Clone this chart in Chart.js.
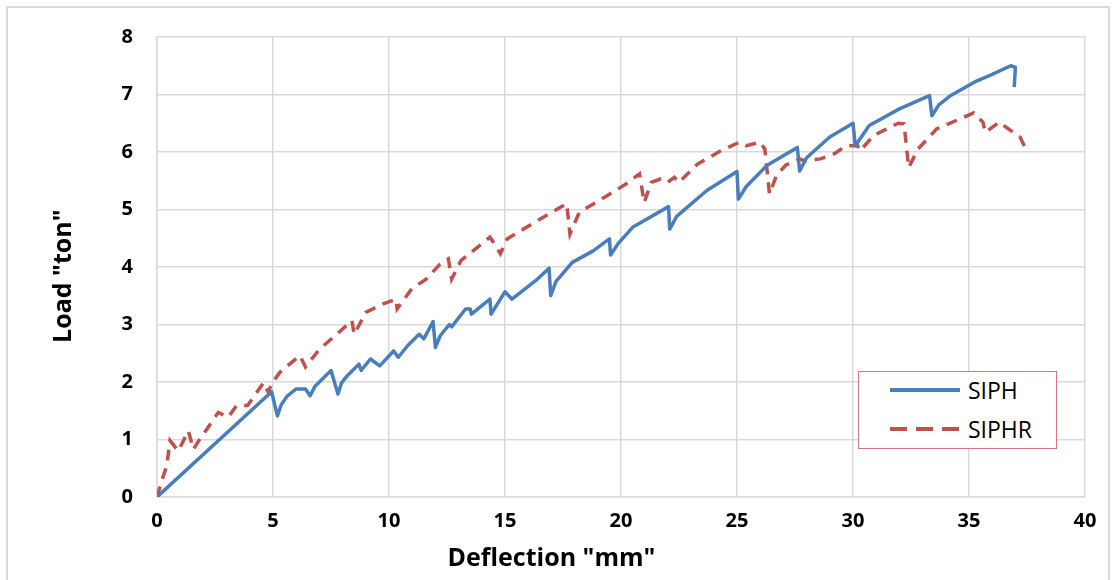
<!DOCTYPE html>
<html>
<head>
<meta charset="utf-8">
<script src="https://cdn.jsdelivr.net/npm/chart.js@4.4.1/dist/chart.umd.min.js"></script>
<style>
  html, body { margin: 0; padding: 0; background: #ffffff; }
  #wrap { position: relative; width: 1120px; height: 580px; overflow: hidden; }
  #frame { position: absolute; left: 6px; top: 6px; width: 1104px; height: 600px; border: 2px solid #d9d9d9; box-sizing: border-box; }
  canvas { position: absolute; left: 0; top: 0; }
  #legend { position: absolute; left: 858px; top: 371px; width: 199px; height: 78px; border: 1px solid #d0787a;
    box-sizing: border-box; background: #fff; font-family: "Open Sans", "Noto Sans", sans-serif; font-size: 23px; color: #000; }
  .item { position: absolute; left: 31px; height: 30px; display: flex; align-items: center; }
  .item svg { margin-right: 8px; }
</style>
</head>
<body>
<div id="wrap">
  <div id="frame"></div>
  <canvas id="chart" width="1120" height="580"></canvas>
  <div id="legend"></div>
</div>
<script>
// SIPH (solid blue)
const siphX = [0, 4.94, 5.19, 5.35, 5.6, 6.0, 6.4, 6.6, 6.8, 7.0, 7.5, 7.8, 7.95, 8.2, 8.7, 8.8, 9.2, 9.6, 10.2, 10.4, 10.8, 11.3, 11.5, 11.9, 12.0,
  12.2, 12.6, 12.7, 13.3, 13.5, 13.55, 14.35, 14.4, 15.0, 15.3, 16.4, 16.9, 16.97, 17.2, 17.9, 18.8, 19.5, 19.55, 19.9, 20.5, 22.05, 22.1,
  22.4, 23.7, 25.0, 25.06, 25.4, 26.3, 27.6, 27.7, 28.0, 29.0, 30.0, 30.1, 30.7, 32.0, 33.3, 33.4, 33.7, 34.2, 35.3, 36.0, 36.8, 37.0, 36.95];
const siphY = [0, 1.83, 1.41, 1.6, 1.75, 1.88, 1.88, 1.76, 1.92, 2.0, 2.2, 1.79, 1.98, 2.11, 2.31, 2.2, 2.4, 2.28, 2.54, 2.43, 2.63, 2.83, 2.75, 3.05, 2.6,
  2.8, 3.0, 2.96, 3.27, 3.27, 3.18, 3.44, 3.18, 3.57, 3.44, 3.79, 3.98, 3.5, 3.75, 4.08, 4.28, 4.49, 4.21, 4.42, 4.69, 5.05, 4.66,
  4.88, 5.33, 5.66, 5.18, 5.4, 5.77, 6.08, 5.67, 5.9, 6.26, 6.5, 6.11, 6.46, 6.75, 6.98, 6.63, 6.82, 6.98, 7.23, 7.35, 7.5, 7.47, 7.13];

// SIPHR (dashed red)
const siphrX = [0, 0.2, 0.42, 0.56, 0.92, 1.35, 1.57, 1.8, 2.2, 2.64, 3.07, 3.43, 3.9, 4.2, 4.6, 4.8, 4.94, 5.3, 6.16, 6.4,
  7.0, 7.75, 8.4, 8.5, 9.0, 9.75, 10.3, 10.35, 10.98, 11.6, 12.2, 12.56, 12.7, 13.1, 13.9, 14.35, 14.5, 14.8, 15.1, 15.8,
  16.5, 17.66, 17.8, 18.2, 19.4, 20.2, 20.8, 21.0, 21.3, 21.7, 22.0, 22.3, 22.5, 23.3, 24.3, 25.1, 25.4, 26.0, 26.2, 26.4,
  26.7, 27.1, 27.7, 27.9, 28.6, 29.2, 29.7, 30.2, 30.3, 30.9, 31.95, 32.2, 32.4, 32.8, 33.6, 34.75, 35.2, 35.6, 35.7, 36.3,
  36.6, 37.2, 37.45];
const siphrY = [0, 0.28, 0.54, 0.98, 0.8, 1.15, 0.83, 0.98, 1.21, 1.47, 1.39, 1.59, 1.59, 1.76, 1.99, 1.82, 1.97, 2.17, 2.46, 2.26,
  2.57, 2.83, 3.07, 2.83, 3.21, 3.36, 3.44, 3.27, 3.62, 3.79, 4.05, 4.14, 3.79, 4.11, 4.37, 4.52, 4.43, 4.23, 4.49, 4.66,
  4.83, 5.1, 4.57, 4.95, 5.24, 5.44, 5.62, 5.12, 5.47, 5.53, 5.47, 5.56, 5.47, 5.79, 6.02, 6.17, 6.11, 6.17, 6.05, 5.27,
  5.59, 5.77, 5.88, 5.85, 5.88, 5.97, 6.11, 6.11, 6.02, 6.29, 6.5, 6.49, 5.73, 6.05, 6.4, 6.6, 6.68, 6.52, 6.34, 6.52,
  6.43, 6.26, 6.05];

const xTicks = [0, 5, 10, 15, 20, 25, 30, 35, 40];
const yTicks = [0, 1, 2, 3, 4, 5, 6, 7, 8];
const seriesNames = ['SIPH', 'SIPHR'];

const toPoints = (xs, ys) => xs.map((x, i) => ({ x: x, y: ys[i] }));

const axisTitles = {
  id: 'axisTitles',
  afterDraw(chart) {
    const { ctx, chartArea } = chart;
    ctx.save();
    ctx.fillStyle = '#000';
    ctx.font = 'bold 25px "Open Sans", "Noto Sans", sans-serif';
    ctx.textAlign = 'center';
    ctx.textBaseline = 'middle';
    ctx.fillText('Deflection "mm"', chartArea.left + (chartArea.right - chartArea.left) * 0.425, 559);
    ctx.translate(64, chartArea.top + (chartArea.bottom - chartArea.top) * 0.52);
    ctx.rotate(-Math.PI / 2);
    ctx.fillText('Load "ton"', 0, 0);
    ctx.restore();
  }
};

const tickFont = { family: '"Open Sans", "Noto Sans", sans-serif', size: 20, weight: 'bold' };

const chart = new Chart(document.getElementById('chart').getContext('2d'), {
  type: 'line',
  data: {
    datasets: [
      {
        label: seriesNames[0],
        data: toPoints(siphX, siphY),
        borderColor: '#4a7ebb',
        borderWidth: 3.5,
        borderJoinStyle: 'round',
        pointRadius: 0,
        tension: 0,
      },
      {
        label: seriesNames[1],
        data: toPoints(siphrX, siphrY),
        borderColor: '#c0504d',
        borderWidth: 3.5,
        borderDash: [11, 8],
        pointRadius: 0,
        tension: 0,
      },
    ],
  },
  options: {
    responsive: false,
    animation: false,
    layout: { padding: { left: 0, top: 37, right: 35, bottom: 0 } },
    plugins: { legend: { display: false }, tooltip: { enabled: false } },
    scales: {
      x: {
        type: 'linear',
        min: 0,
        max: 40,
        afterBuildTicks: scale => { scale.ticks = xTicks.map(v => ({ value: v })); },
        afterFit: scale => { scale.height = 83; },
        ticks: { color: '#000', font: tickFont, padding: 12, maxRotation: 0 },
        grid: { color: '#d9d9d9', lineWidth: 1.5, drawTicks: false },
        border: { color: '#d9d9d9', width: 1.5 },
      },
      y: {
        min: 0,
        max: 8,
        afterBuildTicks: scale => { scale.ticks = yTicks.map(v => ({ value: v })); },
        afterFit: scale => { scale.width = 157; },
        ticks: { color: '#000', font: tickFont, padding: 24 },
        grid: { color: '#d9d9d9', lineWidth: 1.5, drawTicks: false },
        border: { color: '#d9d9d9', width: 1.5 },
      },
    },
  },
  plugins: [axisTitles],
});

// legend box
const legend = document.getElementById('legend');
chart.data.datasets.forEach((ds, i) => {
  const item = document.createElement('div');
  item.className = 'item';
  item.style.top = (3 + i * 39) + 'px';
  const dash = ds.borderDash ? '17,9' : 'none';
  item.innerHTML = '<svg width="70" height="8"><line x1="0" y1="4" x2="70" y2="4" stroke="' + ds.borderColor +
    '" stroke-width="4" stroke-dasharray="' + dash + '"/></svg><span>' + ds.label + '</span>';
  legend.appendChild(item);
});
</script>
</body>
</html>
